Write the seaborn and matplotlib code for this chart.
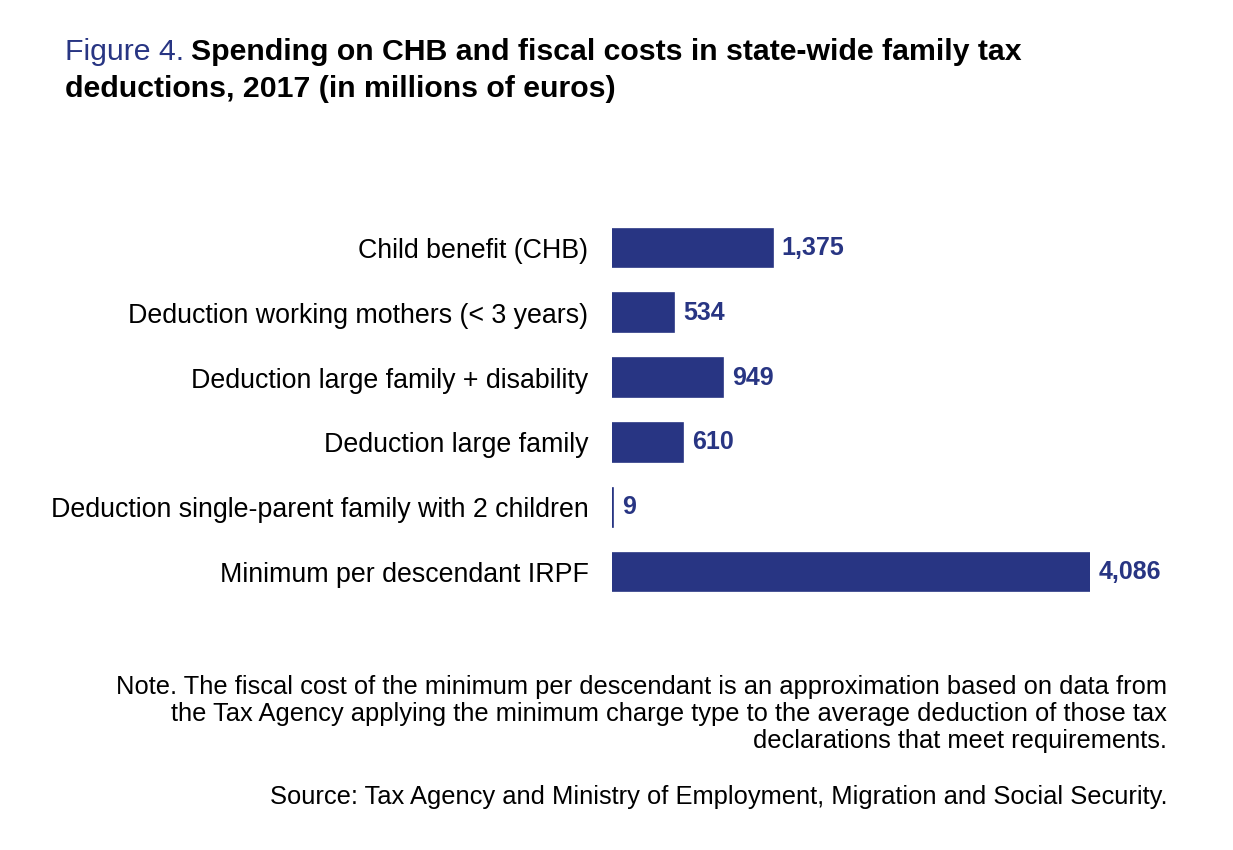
import matplotlib
matplotlib.use("Agg")
import matplotlib.pyplot as plt
import seaborn as sns
import pandas as pd

# data
categories = [
    "Child benefit (CHB)",
    "Deduction working mothers (< 3 years)",
    "Deduction large family + disability",
    "Deduction large family",
    "Deduction single-parent family with 2 children",
    "Minimum per descendant IRPF",
]
values = [1375, 534, 949, 610, 9, 4086]
value_labels = ["1,375", "534", "949", "610", "9", "4,086"]

df = pd.DataFrame({"category": categories, "value": values})

navy = "#283583"

sns.set_theme(style="white")
plt.rcParams["font.family"] = ["Liberation Sans", "DejaVu Sans"]

fig = plt.figure(figsize=(12.33, 8.5), dpi=100)
ax = fig.add_axes([612 / 1233, 1 - 604.4 / 850, (1090 - 612) / 1233, (604.4 - 215.6) / 850])

sns.barplot(data=df, x="value", y="category", color=navy, saturation=1,
            width=0.6, ax=ax, orient="h")
# tiny bar gets a minimum visible width like the original
for p in ax.patches:
    p.set_edgecolor(navy)
    p.set_linewidth(1.2)

ax.set_xlim(0, 4086)
ax.set_ylim(5.5, -0.5)
ax.set_xlabel("")
ax.set_ylabel("")
ax.set_xticks([])
ax.tick_params(axis="y", length=0, pad=17, labelsize=19.3, labelcolor="black")
sns.despine(ax=ax, left=True, bottom=True)

for i, (v, lab) in enumerate(zip(values, value_labels)):
    ax.text(v + 75, i, lab, va="center", ha="left", fontsize=18,
            fontweight="bold", color=navy, clip_on=False)

# title: coloured "Figure 4." then bold black text
t1 = fig.text(65 / 1233, 1 - 60 / 850, "Figure 4.", fontsize=21.8, color=navy,
              ha="left", va="baseline")
fig.canvas.draw()
bb = t1.get_window_extent()
fig.text((bb.x1 + 7) / 1233, 1 - 60 / 850,
         "Spending on CHB and fiscal costs in state-wide family tax",
         fontsize=21.8, fontweight="bold", color="black", ha="left", va="baseline")
fig.text(65 / 1233, 1 - 97 / 850, "deductions, 2017 (in millions of euros)",
         fontsize=21.8, fontweight="bold", color="black", ha="left", va="baseline")

note_lines = [
    "Note. The fiscal cost of the minimum per descendant is an approximation based on data from",
    "the Tax Agency applying the minimum charge type to the average deduction of those tax",
    "declarations that meet requirements.",
]
for k, line in enumerate(note_lines):
    fig.text(1167 / 1233, 1 - (694 + 27 * k) / 850, line, fontsize=18.4,
             color="black", ha="right", va="baseline")
fig.text(1167 / 1233, 1 - 804 / 850,
         "Source: Tax Agency and Ministry of Employment, Migration and Social Security.",
         fontsize=18.4, color="black", ha="right", va="baseline")

fig.savefig("out.png", dpi=100)
